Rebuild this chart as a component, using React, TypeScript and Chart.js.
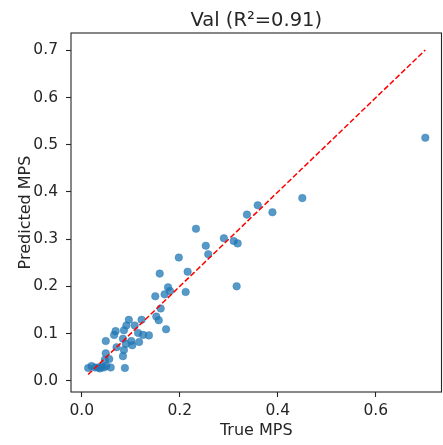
import React, { useEffect, useRef } from "react";
import { Chart, registerables } from "chart.js";

Chart.register(...registerables);

const trueMPS = [
  0.701, 0.45, 0.389, 0.359, 0.337, 0.233, 0.29, 0.31, 0.318, 0.253, 0.258, 0.198, 0.316, 0.159,
  0.216, 0.176, 0.18, 0.169, 0.15, 0.212, 0.161, 0.152, 0.157, 0.122, 0.172, 0.096, 0.108, 0.091,
  0.069, 0.066, 0.086, 0.115, 0.125, 0.137, 0.084, 0.049, 0.101, 0.117, 0.071, 0.09, 0.103, 0.086,
  0.084, 0.049, 0.056, 0.047, 0.088, 0.059, 0.013, 0.02, 0.027, 0.033, 0.04, 0.045, 0.037, 0.05,
];
const predMPS = [
  0.515, 0.387, 0.357, 0.372, 0.352, 0.322, 0.302, 0.296, 0.291, 0.286, 0.268, 0.261, 0.2, 0.227,
  0.231, 0.198, 0.19, 0.183, 0.179, 0.188, 0.153, 0.136, 0.128, 0.129, 0.109, 0.129, 0.117, 0.117,
  0.105, 0.097, 0.107, 0.101, 0.097, 0.096, 0.089, 0.084, 0.084, 0.082, 0.071, 0.078, 0.075, 0.065,
  0.052, 0.058, 0.046, 0.044, 0.027, 0.028, 0.027, 0.031, 0.028, 0.028, 0.03, 0.028, 0.026, 0.031,
];
const xTicks = [0.0, 0.2, 0.4, 0.6];
const yTicks = [0.0, 0.1, 0.2, 0.3, 0.4, 0.5, 0.6, 0.7];
const titleText = "Val (R\u00b2=0.91)";
const xLabel = "True MPS";
const yLabel = "Predicted MPS";

const FONT = "'DejaVu Sans', sans-serif";
const INK = "#262626";
const CANVAS_W = 446;

const frame = {
  id: "frame",
  afterDatasetsDraw(chart: any) {
    const { ctx, chartArea } = chart;
    ctx.save();
    ctx.strokeStyle = INK;
    ctx.lineWidth = 1.1;
    ctx.strokeRect(chartArea.left, chartArea.top, chartArea.right - chartArea.left, chartArea.bottom - chartArea.top);
    ctx.restore();
  },
};

export default function App() {
  const ref = useRef<HTMLCanvasElement | null>(null);
  useEffect(() => {
    if (!ref.current) return;
    const lo = Math.min(...trueMPS);
    const hi = Math.max(...trueMPS);
    const chart = new Chart(ref.current, {
      type: "scatter",
      data: {
        datasets: [
          {
            type: "line",
            data: [
              { x: lo, y: lo },
              { x: hi, y: hi },
            ],
            borderColor: "#ff0000",
            borderWidth: 1.5,
            borderDash: [5.5, 2.4],
            pointRadius: 0,
            fill: false,
          } as any,
          {
            data: trueMPS.map((x, i) => ({ x, y: predMPS[i] })),
            backgroundColor: "rgba(31,119,180,0.75)",
            borderColor: "rgba(31,119,180,0.75)",
            borderWidth: 0.5,
            pointRadius: 3.8,
          },
        ],
      },
      options: {
        animation: false,
        responsive: false,
        devicePixelRatio: 1,
        layout: { padding: { left: 0, right: 0, top: 0, bottom: 0 } },
        plugins: {
          legend: { display: false },
          tooltip: { enabled: false },
          title: {
            display: true,
            text: titleText,
            fullSize: false,
            color: INK,
            font: { family: FONT, size: 19.5, weight: "normal" },
            padding: { top: 9, bottom: 0.6 },
          },
        },
        scales: {
          x: {
            type: "linear",
            min: -0.022,
            max: 0.734,
            afterFit: (s: any) => {
              s.height = 53;
            },
            afterBuildTicks: (s: any) => {
              s.ticks = xTicks.map((v) => ({ value: v }));
            },
            grid: { display: true, drawOnChartArea: false, drawTicks: true, tickLength: 5, tickColor: INK, tickWidth: 1.1 },
            border: { display: false },
            ticks: {
              color: INK,
              font: { family: FONT, size: 15.5 },
              padding: 5,
              maxRotation: 0,
              autoSkip: false,
              callback: (v: any) => Number(v).toFixed(1),
            },
            title: {
              display: true,
              text: xLabel,
              color: INK,
              font: { family: FONT, size: 16 },
              padding: { top: 0, bottom: 5 },
            },
          },
          y: {
            type: "linear",
            min: -0.024,
            max: 0.737,
            afterFit: (s: any) => {
              s.width = 71;
            },
            afterBuildTicks: (s: any) => {
              s.ticks = yTicks.map((v) => ({ value: v }));
            },
            grid: { display: true, drawOnChartArea: false, drawTicks: true, tickLength: 5, tickColor: INK, tickWidth: 1.1 },
            border: { display: false },
            ticks: {
              color: INK,
              font: { family: FONT, size: 15.5 },
              padding: 8,
              autoSkip: false,
              callback: (v: any) => Number(v).toFixed(1),
            },
            title: {
              display: true,
              text: yLabel,
              color: INK,
              font: { family: FONT, size: 16 },
              padding: { top: 16, bottom: 0 },
            },
          },
        },
      } as any,
      plugins: [frame],
    });
    return () => chart.destroy();
  }, []);
  return (
    <div style={{ position: "absolute", left: 0, top: 0, width: 443, height: 445, overflow: "hidden", background: "#fff" }}>
      <canvas ref={ref} width={CANVAS_W} height={445} style={{ display: "block", width: CANVAS_W, height: 445 }} />
    </div>
  );
}
